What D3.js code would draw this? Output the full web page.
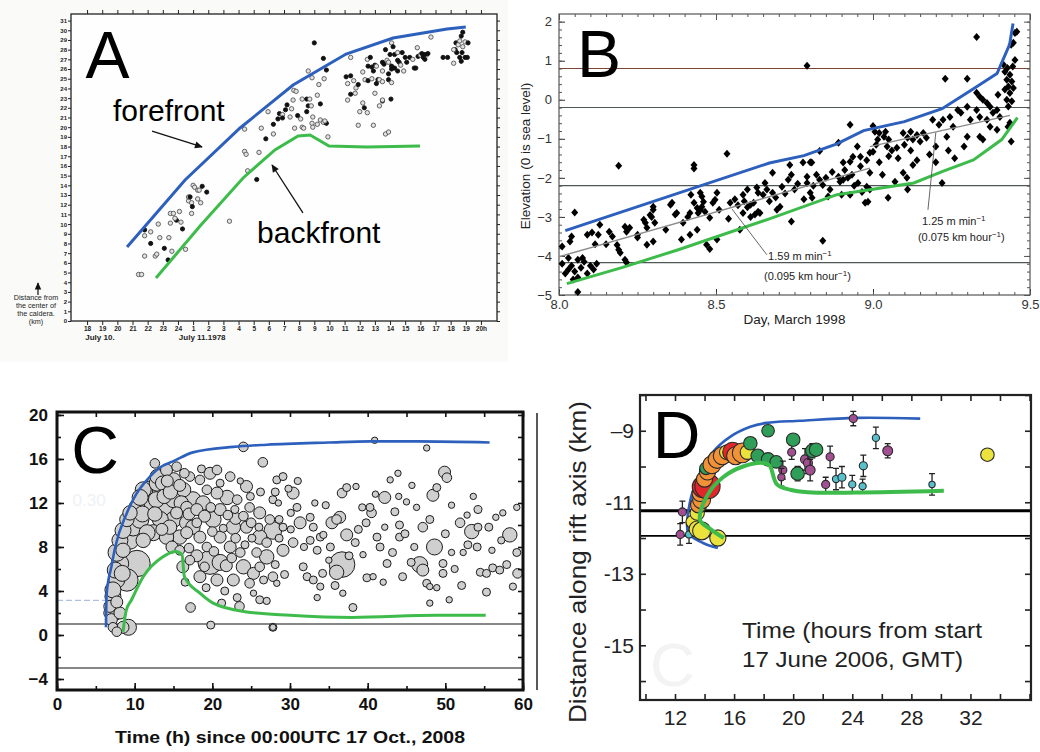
<!DOCTYPE html>
<html>
<head>
<meta charset="utf-8">
<title>Dike fronts A-D</title>
<script src="https://d3js.org/d3.v7.min.js"></script>
<style>
  body { margin: 0; background: #fff; }
  svg { display: block; font-family: "Liberation Sans", Arial, sans-serif; }
</style>
</head>
<body>
<svg width="1040" height="752"></svg>
<script>
// ---------------- data: panel A (hours since July 10 00:00, km from caldera centre)
const aHourTicks = d3.range(18, 45);
const aHourLabels = ["18","19","20","21","22","23","24","1","2","3","4","5","6","7","8","9","10","11","12","13","14","15","16","17","18","19","20h"];
const aKmTicks = d3.range(0, 32);
const aDayLabels = [[18.85, "July 10."], [25.6, "July 11.1978"]];
const aBlue = [[20.64,7.64],[24.47,14.55],[28.1,19.92],[31.6,24.35],[35.1,27.55],[38.2,29.2],[41.76,30.13],[43.0,30.34]];
const aGreen = [[22.55,4.44],[25.46,9.8],[28.3,14.76],[30.4,17.65],[31.93,19.1],[32.72,19.2],[33.97,18.06],[36.48,17.96],[39.98,18.06]];
// [t, km, 1 = filled dot / 0 = open circle]
const aQuakes = [
  [21.4,4.8,0],[21.6,4.8,0],[21.8,8.8,0],[21.8,9.4,1],[21.8,6.7,0],[22.2,9.2,0],[22.2,8.0,1],[22.5,6.7,0],[22.6,6.9,0],
  [22.7,10.0,0],[22.8,8.6,0],[23.1,7.5,1],[23.35,6.3,1],[23.4,8.6,0],[23.5,10.1,0],[23.6,7.2,0],[23.5,11.1,0],[23.7,11.1,0],
  [23.9,10.4,1],[23.8,10.6,0],[24.1,11.3,0],[24.2,10.2,0],[24.3,9.5,1],[24.5,7.4,0],[24.7,12.4,0],[24.7,12.8,0],[24.8,12.8,1],
  [24.9,11.1,0],[24.9,12.2,0],[24.95,11.8,1],[25.0,14.0,0],[25.1,13.8,0],[25.3,13.5,0],[25.3,12.6,0],[25.4,13.5,0],[25.6,13.9,1],
  [25.5,12.2,0],[25.9,13.3,1],[27.4,10.3,0],[29.2,14.6,1],
  [28.4,19.8,0],[33.0,28.7,1],[33.6,27.1,1],[32.6,25.8,0],[33.8,25.9,1],[32.85,25.1,0],[33.65,25.0,0],[33.3,24.4,0],
  [31.65,23.8,0],[31.8,23.7,0],[33.2,23.3,0],[32.2,22.9,0],[32.5,22.9,1],[32.7,22.9,0],[31.6,22.8,0],[31.2,22.3,1],
  [32.6,22.2,1],[32.8,22.2,0],[33.4,22.4,1],[31.5,21.9,0],[31.1,21.8,1],[30.7,21.4,1],[30.9,21.3,0],[31.4,21.05,0],
  [32.9,21.05,0],[31.9,21.2,1],[29.95,21.6,0],[30.9,20.95,1],[30.6,20.85,1],[32.1,20.85,0],[32.5,21.6,1],[33.4,20.74,0],
  [33.6,20.5,0],[33.8,20.4,1],[33.7,20.64,0],[32.85,20.4,0],[30.3,20.3,1],[32.9,20.0,0],[33.2,20.3,0],[32.2,20.0,0],
  [32.3,19.9,0],[31.7,19.9,0],[29.5,19.9,0],[33.9,19.0,0],[30.3,19.3,0],[29.8,18.8,1],[29.35,17.4,0],[28.4,17.5,0],
  [28.5,17.2,0],[28.6,15.5,0],
  [35.4,27.2,0],[35.1,25.2,1],[35.4,25.3,1],[35.2,24.5,0],[35.6,24.8,0],[35.75,24.05,0],[35.7,23.5,0],[35.4,23.4,1],
  [35.2,22.8,0],[35.9,24.4,1],[36.2,25.7,0],[36.5,27.0,0],[36.7,27.2,1],[36.55,26.3,1],[36.8,26.2,1],[37.0,26.4,1],
  [36.9,25.8,1],[36.35,24.9,0],[36.55,24.8,1],[36.8,25.0,0],[37.2,24.9,1],[37.1,24.5,1],[37.0,23.5,0],[37.3,24.9,0],
  [36.2,22.5,0],[36.3,22.0,1],[36.5,21.5,0],[36.0,21.6,0],[35.9,20.2,0],[36.9,20.2,0],[37.5,22.7,1],[37.3,22.2,0],
  [37.7,19.3,0],[37.9,19.5,0],[37.1,26.3,0],[37.5,26.7,1],[37.6,26.5,1],[37.8,26.9,0],[37.9,26.7,0],[37.7,28.0,1],
  [38.1,28.7,0],[38.2,28.3,1],[38.0,27.5,1],[38.3,27.5,1],[38.5,27.7,0],[38.8,27.7,1],[38.5,26.9,1],[38.1,26.3,1],
  [38.3,26.1,1],[38.6,26.7,1],[38.7,26.4,0],[38.1,26.0,1],[38.5,25.8,1],[37.5,25.8,0],[37.9,25.5,1],[37.9,24.9,1],
  [38.1,24.6,0],[37.5,24.7,0],[38.9,25.8,0],[39.0,27.2,1],[39.1,26.7,1],[39.3,27.2,1],[39.5,27.0,0],[39.6,26.1,1],
  [39.7,26.1,1],[39.8,28.2,0],[39.85,27.3,1],[40.0,27.45,0],[40.1,27.6,1],[40.2,27.2,1],[40.3,27.0,1],[40.4,27.45,0],
  [40.5,27.6,1],[40.3,27.5,1],[40.7,29.3,0],[38.06,22.9,1],[37.5,22.8,0],
  [41.5,27.2,1],[41.8,27.2,1],[42.2,26.6,0],[42.3,28.0,1],[42.35,28.7,1],[42.4,27.7,1],[42.5,28.5,0],[42.6,28.9,0],
  [42.7,29.4,1],[42.8,29.8,1],[42.8,28.3,0],[42.95,28.8,0],[42.75,27.7,1],[42.6,27.2,1],[42.95,27.2,1],[43.1,27.2,1],
  [42.7,26.8,1],[43.15,28.7,1],[42.2,28.0,0]
];

// ---------------- data: panel B (day of March 1998, elevation km)
const bDayMajor = [8.0, 8.5, 9.0, 9.5];
const bElevMajor = [-5, -4, -3, -2, -1, 0, 1, 2];
const bRefLevels = [0.8, -0.2, -2.2, -4.17];
const bBlue = [[8.02,-3.35],[8.67,-1.62],[8.78,-1.43],[8.885,-1.13],[8.97,-0.79],[9.1,-0.56],[9.22,-0.23],[9.32,0.28],[9.395,0.67],[9.435,1.41],[9.446,1.95]];
const bGreen = [[8.025,-4.71],[8.2,-4.3],[8.38,-3.84],[8.67,-3.05],[8.885,-2.43],[9.13,-2.13],[9.22,-1.84],[9.32,-1.54],[9.41,-1.02],[9.46,-0.46]];
const bFit1 = [[8.0,-4.02],[8.99,-1.75]];
const bFit2 = [[8.99,-1.2],[9.436,-0.4]];
const bQuakes = [
  [8.19,-1.69],[8.43,-1.67],[8.43,-1.76],[8.535,-1.38],[8.05,-2.89],[8.01,-3.76],[8.04,-3.5],[8.035,-3.63],
  [8.01,-4.2],[8.03,-4.05],[8.04,-4.25],[8.05,-4.4],[8.06,-4.1],[8.06,-4.55],[8.07,-4.3],[8.08,-4.15],[8.09,-4.45],
  [8.1,-4.25],[8.02,-4.45],[8.045,-4.6],[8.075,-4.05],[8.11,-4.35],[8.12,-4.2],[8.03,-4.35],[8.06,-4.92],
  [8.09,-3.46],[8.105,-3.4],[8.115,-3.7],[8.13,-3.2],[8.125,-3.46],[8.15,-3.7],[8.16,-3.38],[8.17,-3.5],[8.185,-3.72],
  [8.19,-3.84],[8.195,-3.92],[8.21,-3.25],[8.215,-3.38],[8.225,-3.28],[8.21,-4.1],[8.215,-4.17],[8.25,-3.53],[8.25,-3.46],
  [8.27,-3.07],[8.275,-3.15],[8.28,-3.28],[8.29,-2.95],[8.295,-3.0],[8.3,-2.74],[8.3,-2.82],[8.305,-3.15],[8.3,-3.63],
  [8.28,-3.71],[8.34,-3.33],[8.355,-2.69],[8.36,-2.64],[8.37,-2.94],[8.375,-2.9],[8.39,-3.58],[8.395,-3.15],[8.41,-3.0],
  [8.417,-2.9],[8.417,-3.46],[8.42,-2.43],[8.43,-2.64],[8.44,-2.77],[8.44,-3.33],[8.443,-2.9],[8.45,-2.82],[8.455,-2.74],
  [8.45,-2.38],[8.455,-2.48],[8.46,-2.61],[8.465,-2.87],[8.47,-3.71],[8.48,-3.82],[8.48,-3.02],[8.49,-2.64],[8.497,-2.56],
  [8.503,-3.58],[8.503,-2.38],[8.51,-2.82],[8.54,-3.05],[8.545,-2.64],[8.576,-3.33],[8.586,-2.43],[8.6,-2.3],[8.61,-2.69],
  [8.62,-2.64],[8.63,-2.25],[8.634,-2.38],[8.65,-2.43],[8.662,-2.3],[8.634,-2.87],[8.64,-2.9],[8.61,-3.0],[8.624,-2.94],
  [8.586,-2.9],[8.68,-1.87],[8.656,-2.13],[8.56,-2.55],[8.57,-2.7],[8.59,-2.6],[8.6,-2.75],[8.67,-2.6],[8.69,-2.5],
  [8.74,-3.12],[8.84,-3.61],[8.694,-2.82],[8.704,-2.74],[8.68,-2.38],[8.71,-2.23],[8.73,-2.05],[8.74,-1.92],[8.75,-2.3],
  [8.79,-1.97],[8.79,-2.13],[8.8,-2.38],[8.806,-2.51],[8.82,-1.92],[8.83,-2.05],[8.84,-2.18],[8.857,-2.48],[8.863,-2.3],
  [8.89,-1.97],[8.895,-2.1],[8.905,-2.05],[8.9,-2.43],[8.927,-2.43],[8.92,-2.0],[8.933,-1.92],[8.952,-2.13],[8.965,-2.36],
  [8.975,-2.64],[8.984,-2.61],[8.98,-2.23],[8.99,-2.3],[8.99,-1.87],[9.03,-1.92],[9.048,-2.51],[9.07,-2.1],[9.096,-1.87],
  [9.108,-2.0],[9.11,-2.3],[9.127,-1.67],[9.22,-2.13],[8.735,-1.67],[8.777,-1.61],[8.805,-1.61],[8.72,-2.4],[8.76,-2.15],
  [8.78,-2.55],[8.81,-2.2],[8.85,-2.0],[8.87,-1.85],[8.91,-1.8],[8.94,-2.2],[8.96,-1.7],[9.02,-1.6],[9.05,-1.45],
  [9.08,-1.5],[9.12,-1.3],[9.14,-1.55],[9.18,-1.4],[9.2,-1.6],[9.24,-1.3],[9.26,-1.5],[9.06,-1.3],[9.1,-1.15],[8.98,-1.55],
  [8.95,-1.2],
  [8.79,0.87],[9.33,1.61],[9.23,0.54],[9.3,0.54],[8.927,-0.64],[9.0,-0.67],[8.89,-1.1],[8.83,-1.31],[8.8,-1.6],
  [8.936,-1.46],[8.96,-1.46],[8.905,-1.61],[8.927,-1.59],[9.006,-0.82],[9.02,-0.85],[9.04,-0.82],[9.035,-0.95],[9.015,-1.02],
  [9.05,-1.02],[9.01,-1.15],[9.045,-1.2],[8.99,-1.36],[9.0,-1.33],[9.096,-0.85],[9.12,-0.82],[9.14,-0.9],[9.16,-0.85],
  [9.11,-0.97],[9.127,-1.02],[9.15,-1.07],[9.17,-0.97],[9.076,-1.23],[9.19,-0.51],[9.21,-0.64],[9.223,-0.51],[9.245,-0.44],
  [9.255,-0.69],[9.235,-0.95],[9.2,-1.2],[9.27,-0.26],[9.28,-0.33],[9.3,-0.18],[9.31,-0.51],[9.33,-0.26],[9.29,-1.2],
  [9.3,-0.95],[9.35,0.0],[9.363,-0.08],[9.373,-0.18],[9.34,-0.44],[9.363,-0.51],[9.382,-0.33],[9.395,-0.26],[9.404,-0.44],
  [9.373,-0.69],[9.395,-0.77],[9.34,-0.95],[9.35,-1.02],[9.398,0.13],[9.33,0.18],[9.34,0.08],
  [9.415,0.9],[9.42,0.72],[9.428,0.81],[9.436,0.64],[9.426,0.51],[9.442,0.47],[9.431,0.34],[9.447,0.3],[9.42,0.26],
  [9.436,0.17],[9.426,0.0],[9.442,-0.04],[9.431,-0.17],[9.445,0.85],[9.452,1.02],[9.452,1.71],[9.458,1.74],[9.44,1.41],
  [9.447,1.46],[9.436,-0.59],[9.43,-0.69],[9.44,-1.07]
];

// ---------------- data: panel C (hours since 00:00 UTC 17 Oct 2008, km, magnitude class)
const cRefLevels = [1.0, -3.0];
const cBlue = [[6.3,0.7],[6.4,3.8],[7.0,6.2],[7.5,8.0],[9.0,11.1],[10.2,12.8],[11.6,14.1],[13.2,15.2],[15.0,15.8],[17.5,16.6],[22.7,17.1],[27,17.3],[35,17.5],[40.3,17.6],[46.3,17.6],[55.7,17.5]];
const cGreen = [[8.5,0.3],[8.9,2.2],[9.6,3.2],[11.1,5.3],[13.6,7.1],[15.3,7.6],[16.1,7.3],[16.4,5.3],[18.4,3.8],[20.1,2.9],[24.4,2.1],[30,1.8],[38,1.6],[48.9,1.8],[55.2,1.8]];
const cQuakes = [
  [10.3,6.5,3.3],[9.0,5.0,2.8],[8.5,0.7,1.5],[7.5,2.0,1.8],[7.2,3.5,2.0],[7.7,5.0,2.0],[8.1,6.5,2.2],[9.4,8.6,2.2],
  [9.8,9.8,2.2],[10.7,10.5,2.2],[11.6,11.6,2.5],[11.1,13.2,2.0],[12.6,15.6,1.2],[13.3,13.2,2.0],[14.1,11.6,2.2],[15.0,14.1,1.8],
  [15.0,10.5,2.0],[16.7,10.2,1.8],[15.8,8.9,1.8],[19.7,6.6,3.0],[21.0,6.6,2.0],[17.5,12.3,2.0],[18.8,12.0,1.8],[17.5,9.8,1.8],
  [20.1,10.5,2.0],[22.7,9.8,1.8],[22.3,8.0,1.5],[24.0,6.2,1.8],[25.3,5.6,1.5],[27.0,7.1,1.8],[27.8,9.5,2.2],[26.1,8.9,1.8],
  [24.4,13.5,1.5],[22.3,14.4,1.2],[19.7,14.7,1.5],[20.6,15.0,1.2],[24.0,17.1,1.2],[26.5,15.7,1.2],[17.2,2.5,1.2],[19.8,0.9,1.0],
  [21.2,2.9,1.0],[23.2,3.4,1.0],[23.5,2.6,1.2],[27.8,0.7,1.0],[26.1,3.2,1.0],[27.0,3.1,0.9],[17.1,6.8,1.2],[18.4,5.3,1.5],
  [20.6,5.0,1.5],[22.7,5.0,1.5],[24.8,4.7,1.2],[23.6,7.5,1.2],[21.0,8.9,1.5],[18.4,8.9,1.5],[19.3,8.0,1.2],[15.8,7.7,1.2],
  [14.1,8.9,1.8],[13.3,10.5,2.0],[12.4,9.3,2.0],[12.9,14.4,1.8],[14.1,15.0,1.5],[15.4,15.3,1.2],[17.1,14.4,1.2],[18.4,14.1,1.2],
  [19.3,13.2,1.2],[20.6,12.9,1.5],[21.9,12.5,1.8],[23.2,12.3,1.2],[24.8,11.6,1.2],[26.1,11.1,1.5],[27.4,10.5,1.2],[24.4,9.8,1.5],
  [25.7,7.5,1.2],[26.1,6.2,1.2],[27.8,5.3,1.2],[28.3,14.1,1.0],[27.8,12.3,1.0],
  [6.8,2.0,1.5],[7.0,1.4,1.5],[7.2,0.7,1.2],[7.7,0.3,1.2],[6.8,2.6,1.5],[7.2,4.1,2.0],[7.5,5.9,2.0],[7.7,7.5,2.2],
  [8.1,8.6,2.0],[8.5,9.5,2.0],[9.0,10.5,1.8],[9.4,11.1,1.8],[10.3,11.6,2.0],[10.7,12.5,2.0],[12.0,13.2,2.2],[12.9,13.8,2.0],
  [13.6,13.8,1.8],[8.5,7.7,1.8],[8.4,5.6,2.0],[9.2,0.7,2.0],[8.1,2.0,1.5],[7.7,3.0,1.5],[11.6,9.3,2.0],[11.1,8.6,1.8],
  [15.0,12.3,2.0],[16.3,13.2,1.8],[16.7,11.6,1.5],[15.4,11.1,1.5],[14.5,9.8,1.8],[16.7,9.3,1.5],
  [11.0,11.0,2.0],[12.0,11.8,2.2],[12.8,12.3,2.0],[13.8,12.6,1.8],[14.6,13.0,1.8],[15.8,13.6,1.5],[16.0,12.0,1.8],[17.0,11.0,1.5],
  [18.0,11.4,1.5],[19.0,10.8,1.5],[19.8,11.6,1.2],[21.0,11.4,1.5],[22.0,10.9,1.2],[23.0,10.6,1.5],[24.0,10.8,1.2],[25.0,10.2,1.2],
  [26.0,9.8,1.0],[27.0,8.4,1.2],[28.6,8.8,1.0],[12.6,11.0,1.8],[13.5,9.6,1.5],[14.8,8.0,1.5],[16.2,6.2,1.5],[17.0,7.9,1.2],
  [18.0,7.2,1.5],[19.0,6.2,1.2],[20.2,7.6,1.2],[21.8,6.3,1.5],[22.5,7.0,1.2],[23.0,8.8,1.2],[24.2,8.2,1.0],[25.1,8.8,1.0],
  [26.6,5.0,1.0],[25.3,3.8,0.8],[21.6,4.0,1.0],[19.2,4.3,1.0],[16.5,4.8,1.0],[18.0,10.2,1.2],[20.0,9.4,1.2],[21.4,9.7,1.0],
  [22.9,11.4,1.0],[24.9,12.6,1.0],[26.2,13.0,1.0],[23.6,14.0,0.8],[21.0,13.8,1.0],[18.6,15.1,1.0],[16.4,14.7,1.2],[14.2,14.0,1.5],
  [29.1,14.4,1.0],[30.4,12.9,1.5],[28.1,13.0,1.0],[28.5,12.0,0.8],[30.9,11.6,1.0],[31.3,10.2,1.5],[29.1,9.8,1.0],[30.4,8.4,1.2],
  [29.1,7.7,1.5],[28.1,6.4,1.0],[29.3,5.5,1.0],[28.3,4.7,0.8],[31.7,6.2,1.0],[32.2,5.3,1.0],[33.5,7.7,1.0],[33.9,8.9,1.0],
  [34.3,9.1,0.9],[35.4,10.2,1.5],[36.0,10.5,1.2],[36.4,10.7,1.5],[37.3,9.1,1.5],[36.7,6.4,3.2],[36.0,5.7,1.8],[35.8,4.5,1.0],
  [34.2,5.6,1.0],[33.0,5.0,1.0],[33.5,3.4,0.8],[33.9,4.4,0.9],[36.7,12.9,1.2],[37.3,13.4,1.0],[38.5,13.5,0.8],[38.4,8.4,1.0],
  [38.1,2.5,1.0],[39.9,5.2,1.0],[39.4,7.3,0.8],[40.7,5.3,0.8],[40.5,11.1,1.2],[40.3,11.6,1.0],[39.3,11.6,0.9],[42.2,12.5,1.5],
  [42.2,9.8,0.8],[41.2,8.9,1.0],[41.6,8.0,1.0],[42.5,6.5,1.0],[43.2,7.5,1.0],[44.1,8.9,1.0],[44.1,10.0,1.0],[42.9,14.1,0.8],
  [43.9,14.7,0.8],[45.0,12.1,0.8],[46.3,11.6,0.8],[47.1,9.8,1.2],[48.0,10.5,1.0],[48.6,8.0,2.0],[46.7,6.4,2.0],[47.1,5.9,1.5],
  [47.6,4.7,1.0],[48.0,4.4,0.8],[48.9,4.3,0.8],[49.7,6.5,1.0],[49.7,5.6,1.0],[50.8,7.5,0.8],[49.9,14.8,1.5],[50.2,14.3,1.2],
  [48.4,12.7,1.5],[48.9,13.4,1.0],[50.8,11.8,0.8],[51.9,10.2,1.2],[53.4,9.4,1.8],[54.2,9.8,1.0],[54.2,11.4,1.0],[52.9,8.2,1.0],
  [54.1,8.0,1.0],[52.3,7.5,0.8],[52.1,4.5,1.0],[54.5,5.7,1.0],[55.3,5.6,1.0],[55.3,3.9,1.0],[56.1,6.1,1.0],[57.0,5.9,1.0],
  [57.9,6.4,1.0],[58.3,9.1,1.8],[57.4,11.1,0.8],[59.2,11.6,0.8],[59.2,7.5,1.0],[59.3,5.6,1.2],[56.0,7.7,0.8],[52.8,10.9,0.8],
  [48.0,2.9,0.8],[27.8,0.7,0.8],[40.9,17.7,0.8],[47.6,17.0,0.8],[33.0,9.8,1.0],[32.6,8.6,1.0],[32.6,10.7,1.0],[30.1,11.1,0.9],
  [30.1,9.6,0.9],[28.6,10.5,1.0],[29.8,13.3,0.9],[31.8,8.0,0.9],[34.6,11.8,0.9],[35.2,8.0,1.0],[37.6,7.2,1.0],[38.8,9.6,1.0],
  [39.8,10.2,1.0],[41.0,12.8,0.8],[43.5,11.2,1.0],[44.8,9.2,1.0],[45.6,6.6,1.0],[44.5,5.3,1.0],[46.0,8.0,0.9],[50.0,9.2,1.0],
  [51.2,6.0,0.9],[53.6,12.6,0.8],[55.6,9.8,1.0],[57.2,8.6,0.9],[58.7,4.4,0.9],[45.7,13.6,0.8],[44.0,12.6,0.8],[31.0,14.0,0.9],
  [33.2,12.0,0.8],[35.0,6.8,0.8],[36.8,3.8,0.8],[42.0,4.8,0.8],[50.5,3.2,0.8],[56.5,10.7,0.8]
];

// ---------------- data: panel D (hours from start 17 June 2006, km along rift axis)
const dXLabels = [12, 16, 20, 24, 28, 32];
const dYTickVals = [-9, -11, -13, -15];
const dYTickLabels = ["\u20139", "-11", "-13", "-15"];
const dRefLevels = [-11.24, -11.94];
const dBlue = [[14.9,-12.28],[13.9,-12.14],[12.9,-11.86],[13.0,-11.02],[13.5,-10.37],[14.58,-9.59],[15.73,-9.17],[17.1,-8.89],[18.2,-8.78],[20.5,-8.72],[24.3,-8.64],[28.6,-8.66]];
const dGreen = [[15.3,-12.0],[14.4,-11.75],[13.7,-11.5],[14.2,-10.8],[15.25,-10.3],[16.6,-10.0],[17.97,-9.9],[18.4,-9.97],[18.9,-10.5],[19.8,-10.65],[21,-10.72],[24.3,-10.73],[30.2,-10.68]];
// [t, km, group, size class, error km]
const dEvents = [
  [12.5,-11.27,"p",0.9,0.3],[12.35,-11.9,"p",0.9,0.3],[12.95,-11.9,"c",0.8,0.25],[13.2,-11.55,"y",1.5,0],
  [13.5,-11.3,"y",1.6,0],[13.6,-11.07,"o",1.8,0],[13.5,-11.75,"y",1.8,0],[13.8,-11.8,"y",2.0,0],[14.9,-12.0,"y",1.8,0.2],
  [13.8,-10.93,"o",2.0,0],[13.7,-10.75,"o",1.8,0],[13.9,-10.57,"r",2.4,0],[14.2,-10.55,"r",2.8,0],[14.0,-10.35,"o",1.8,0],
  [14.2,-10.15,"o",1.8,0],[14.1,-10.05,"g",1.4,0],[14.5,-9.95,"o",2.0,0],[14.85,-9.8,"o",2.0,0],[15.2,-9.7,"o",2.0,0],
  [15.5,-9.6,"y",1.6,0],[15.9,-9.6,"r",2.2,0],[16.1,-9.7,"o",2.0,0],[16.55,-9.62,"o",2.2,0],[16.9,-9.6,"y",1.6,0],
  [17.1,-9.35,"g",1.5,0],[17.6,-9.7,"g",1.5,0],[18.3,-9.0,"g",1.4,0],[18.3,-9.8,"g",1.5,0],[18.85,-9.87,"g",1.4,0],
  [19.3,-10.1,"p",0.9,0.25],[19.2,-10.3,"p",0.8,0.25],[19.9,-9.6,"p",0.9,0.2],[20.0,-9.25,"g",1.5,0],[20.3,-10.2,"g",1.5,0.2],
  [20.8,-9.8,"p",1.0,0.3],[21.0,-9.9,"p",1.0,0.3],[21.15,-10.1,"p",1.1,0.3],[21.3,-9.56,"g",1.5,0.2],[21.55,-9.53,"g",1.5,0],
  [22.5,-9.73,"p",0.9,0.3],[22.2,-10.5,"p",0.9,0.2],[22.9,-10.35,"c",0.8,0.3],[23.3,-10.3,"c",0.9,0.3],[24.0,-10.5,"c",0.8,0.25],
  [24.07,-8.66,"p",0.9,0.2],[24.7,-10.55,"c",0.8,0.2],[24.75,-9.98,"c",0.9,0.3],[25.6,-9.2,"c",0.8,0.3],[26.4,-9.56,"p",1.1,0.2],
  [29.4,-10.5,"c",0.7,0.3],[33.15,-9.67,"y",1.5,0]
];
const dPalette = { y: "#ebe23e", o: "#f29238", r: "#e2262b", g: "#2f9e58", p: "#a24f92", c: "#58bfcc" };

// ---------------- drawing
const BLUE = "#2d5fbd", GREEN = "#3dbb4b";
const svg = d3.select("svg");

svg.append("defs").append("marker")
    .attr("id", "head").attr("viewBox", "0 0 10 10")
    .attr("refX", 9).attr("refY", 5)
    .attr("markerWidth", 8).attr("markerHeight", 6)
    .attr("orient", "auto")
  .append("path").attr("d", "M0,0.5L10,5L0,9.5Z").attr("fill", "#111");

function axis(g, gen, tr, fs, fw, color) {
  const a = g.append("g").attr("transform", tr).call(gen)
      .attr("font-family", null).attr("font-size", fs)
      .attr("font-weight", fw || "normal").attr("color", color || "#222");
  a.select(".domain").remove();
  return a;
}

function frame(g, x, y, stroke, sw) {
  g.append("rect")
      .attr("x", x.range()[0]).attr("y", y.range()[1])
      .attr("width", x.range()[1] - x.range()[0])
      .attr("height", y.range()[0] - y.range()[1])
      .attr("fill", "none").attr("stroke", stroke).attr("stroke-width", sw);
}

function hlines(g, x, y, levels, stroke, widths) {
  g.selectAll(null).data(levels).join("line")
      .attr("x1", x.range()[0]).attr("x2", x.range()[1])
      .attr("y1", d => y(d)).attr("y2", d => y(d))
      .attr("stroke", (d, i) => Array.isArray(stroke) ? stroke[i] : stroke)
      .attr("stroke-width", (d, i) => Array.isArray(widths) ? widths[i] : widths);
}

function letter(g, txt, x, y) {
  g.append("text").attr("x", x).attr("y", y)
      .attr("font-size", 66).attr("fill", "#000").text(txt);
}

// ===== Panel A
const xA = d3.scaleLinear().domain([16.94, 45.06]).range([71, 497]);
const yA = d3.scaleLinear().domain([0, 31.68]).range([321, 14]);
const gA = svg.append("g");
gA.append("rect").attr("x", 0).attr("y", 0).attr("width", 508).attr("height", 362).attr("fill", "#fafaf9");
gA.append("rect").attr("x", xA.range()[0]).attr("y", yA.range()[1])
    .attr("width", xA.range()[1] - xA.range()[0]).attr("height", yA.range()[0] - yA.range()[1])
    .attr("fill", "#fefefe");

axis(gA, d3.axisLeft(yA).tickValues(aKmTicks).tickSize(3).tickSizeOuter(0).tickPadding(1), "translate(71,0)", 6, "bold");
axis(gA, d3.axisRight(yA).tickValues(aKmTicks).tickFormat("").tickSize(3).tickSizeOuter(0), "translate(497,0)", 6);
axis(gA, d3.axisBottom(xA).tickValues(aHourTicks).tickFormat((d, i) => aHourLabels[i]).tickSize(4).tickSizeOuter(0).tickPadding(1),
     "translate(0,321)", 6.5, "bold");
axis(gA, d3.axisTop(xA).tickValues(aHourTicks).tickFormat("").tickSize(4).tickSizeOuter(0), "translate(0,14)", 6);
frame(gA, xA, yA, "#222", 1.3);

gA.selectAll(".daylab").data(aDayLabels).join("text")
    .attr("x", d => xA(d[0])).attr("y", 340)
    .attr("text-anchor", "middle").attr("font-size", 8).attr("font-weight", "bold")
    .attr("fill", "#222").text(d => d[1]);

gA.append("text").attr("text-anchor", "middle").attr("font-size", 7.2).attr("fill", "#222")
  .selectAll("tspan").data(["Distance from", "the center of", "the caldera.", "(km)"]).join("tspan")
    .attr("x", 36).attr("y", (d, i) => 300 + i * 8).text(d => d);
gA.append("line").attr("x1", 38).attr("x2", 38).attr("y1", 295).attr("y2", 283)
    .attr("stroke", "#111").attr("stroke-width", 1.2).attr("marker-end", "url(#head)");

const lineA = d3.line().x(d => xA(d[0])).y(d => yA(d[1]));
gA.selectAll(".qa").data(aQuakes).join("circle")
    .attr("cx", d => xA(d[0])).attr("cy", d => yA(d[1]))
    .attr("r", d => d[2] ? 2.1 : 2.2)
    .attr("fill", d => d[2] ? "#111" : "#e2e2e2")
    .attr("stroke", d => d[2] ? "#111" : "#555")
    .attr("stroke-width", 0.9);
gA.append("path").attr("d", lineA(aBlue)).attr("fill", "none").attr("stroke", BLUE).attr("stroke-width", 3);
gA.append("path").attr("d", lineA(aGreen)).attr("fill", "none").attr("stroke", GREEN).attr("stroke-width", 3);

letter(gA, "A", xA(17.9), yA(25.1));
gA.append("text").attr("x", xA(19.71)).attr("y", yA(20.64)).attr("font-size", 30).text("forefront");
gA.append("text").attr("x", xA(29.22)).attr("y", yA(8.05)).attr("font-size", 30).text("backfront");
gA.append("line").attr("x1", xA(22.29)).attr("y1", yA(19.6)).attr("x2", xA(25.59)).attr("y2", yA(17.96))
    .attr("stroke", "#111").attr("stroke-width", 1.3).attr("marker-end", "url(#head)");
gA.append("line").attr("x1", xA(32.25)).attr("y1", yA(11.15)).attr("x2", xA(30.21)).attr("y2", yA(16.1))
    .attr("stroke", "#111").attr("stroke-width", 1.3).attr("marker-end", "url(#head)");

// ===== Panel B
const xB = d3.scaleLinear().domain([8.0, 9.5]).range([559, 1030]);
const yB = d3.scaleLinear().domain([-5, 2.196]).range([295, 14]);
const gB = svg.append("g");

hlines(gB, xB, yB, bRefLevels, ["#7a4536", "#4e5955", "#4e5955", "#4e5955"], 1.1);

axis(gB, d3.axisLeft(yB).tickValues(bElevMajor).tickFormat(d3.format("d")).tickSize(-6).tickPadding(7), "translate(559,0)", 13, "normal", "#333");
axis(gB, d3.axisLeft(yB).tickValues(d3.range(-5, 2.2, 0.2)).tickFormat("").tickSize(-3), "translate(559,0)", 13, "normal", "#555");
axis(gB, d3.axisRight(yB).tickValues(bElevMajor).tickFormat("").tickSize(-6), "translate(1030,0)", 13, "normal", "#555");
axis(gB, d3.axisRight(yB).tickValues(d3.range(-5, 2.2, 0.2)).tickFormat("").tickSize(-3), "translate(1030,0)", 13, "normal", "#555");
axis(gB, d3.axisBottom(xB).tickValues(bDayMajor).tickFormat(d3.format(".1f")).tickSize(-6).tickPadding(5), "translate(0,295)", 13, "normal", "#333");
axis(gB, d3.axisBottom(xB).tickValues(d3.range(8.0, 9.51, 0.05)).tickFormat("").tickSize(-3), "translate(0,295)", 13, "normal", "#555");
axis(gB, d3.axisTop(xB).tickValues(bDayMajor).tickFormat("").tickSize(-6), "translate(0,14)", 13, "normal", "#555");
axis(gB, d3.axisTop(xB).tickValues(d3.range(8.0, 9.51, 0.05)).tickFormat("").tickSize(-3), "translate(0,14)", 13, "normal", "#555");
frame(gB, xB, yB, "#555", 1.2);

gB.append("text").attr("x", (xB(8.0) + xB(9.5)) / 2).attr("y", 324)
    .attr("text-anchor", "middle").attr("font-size", 13.5).attr("fill", "#222").text("Day, March 1998");
gB.append("text").attr("transform", "translate(530,156) rotate(-90)")
    .attr("text-anchor", "middle").attr("font-size", 13.5).attr("fill", "#222").text("Elevation (0 is sea level)");

gB.selectAll(".qb").data(bQuakes).join("path")
    .attr("d", d => {
      const x = xB(d[0]), y = yB(d[1]);
      return `M${x},${y - 4}L${x + 3.5},${y}L${x},${y + 4}L${x - 3.5},${y}Z`;
    })
    .attr("fill", "#000");

const lineB = d3.line().x(d => xB(d[0])).y(d => yB(d[1]));
[bFit1, bFit2].forEach(f => gB.append("path").attr("d", lineB(f)).attr("fill", "none")
    .attr("stroke", "#8a8a8a").attr("stroke-width", 1.4));
gB.append("path").attr("d", lineB(bBlue)).attr("fill", "none").attr("stroke", BLUE).attr("stroke-width", 3);
gB.append("path").attr("d", lineB(bGreen)).attr("fill", "none").attr("stroke", GREEN).attr("stroke-width", 3);

gB.append("path").attr("d", lineB([[8.551, -2.8], [8.662, -3.97]])).attr("stroke", "#555").attr("stroke-width", 0.9);
gB.append("path").attr("d", lineB([[9.2, -0.84], [9.175, -2.82]])).attr("stroke", "#555").attr("stroke-width", 0.9);

function rateLabel(g, x, y, main, tail) {
  const t = g.append("text").attr("x", x).attr("y", y).attr("font-size", 11).attr("fill", "#222");
  t.append("tspan").text(main);
  t.append("tspan").attr("dy", -4).attr("font-size", 8).text("\u22121");
  if (tail) t.append("tspan").attr("dy", 4).text(tail);
}
rateLabel(gB, xB(8.666), yB(-4.1), "1.59 m min");
rateLabel(gB, xB(8.653), yB(-4.61), "(0.095 km hour", ")");
rateLabel(gB, xB(9.156), yB(-3.2), "1.25 m min");
rateLabel(gB, xB(9.143), yB(-3.61), "(0.075 km hour", ")");

letter(gB, "B", xB(8.057), yB(0.58));

// ===== Panel C
const xC = d3.scaleLinear().domain([0, 60]).range([57, 523]);
const yC = d3.scaleLinear().domain([-5, 20.27]).range([690, 412]);
const rC = d3.scaleLinear().domain([0, 4]).range([0, 16]);
const gC = svg.append("g");

gC.append("text").attr("x", xC(2.0)).attr("y", yC(11.7)).attr("font-size", 17)
    .attr("fill", "#eef1f6").text("0.30");
gC.append("line").attr("x1", xC(0)).attr("x2", xC(6.2)).attr("y1", yC(3.15)).attr("y2", yC(3.15))
    .attr("stroke", "#aebfe0").attr("stroke-width", 1.3).attr("stroke-dasharray", "6,3");

hlines(gC, xC, yC, cRefLevels, "#111", 1.2);

const cSorted = cQuakes.slice().sort((a, b) => b[2] - a[2]);
gC.selectAll(".qc").data(cSorted).join("circle")
    .attr("cx", d => xC(d[0])).attr("cy", d => yC(d[1])).attr("r", d => rC(d[2]))
    .attr("fill", "#cfcfcf").attr("stroke", "#1b1b1b").attr("stroke-width", 1);

const lineC = d3.line().x(d => xC(d[0])).y(d => yC(d[1])).curve(d3.curveMonotoneX);
gC.append("path").attr("d", lineC(cBlue)).attr("fill", "none").attr("stroke", BLUE).attr("stroke-width", 2.6);
gC.append("path").attr("d", lineC(cGreen)).attr("fill", "none").attr("stroke", GREEN).attr("stroke-width", 3);

axis(gC, d3.axisLeft(yC).tickValues(d3.range(-4, 21, 4)).tickFormat(d3.format("d")).tickSize(-7).tickPadding(9), "translate(57,0)", 17, "bold", "#111");
axis(gC, d3.axisLeft(yC).tickValues(d3.range(-4, 21, 2)).tickFormat("").tickSize(-4), "translate(57,0)", 17, "normal", "#111");
axis(gC, d3.axisRight(yC).tickValues(d3.range(-4, 21, 2)).tickFormat("").tickSize(-5), "translate(523,0)", 17, "normal", "#111");
axis(gC, d3.axisBottom(xC).tickValues(d3.range(0, 61, 10)).tickFormat(d3.format("d")).tickSize(-7).tickPadding(8), "translate(0,690)", 17, "bold", "#111");
axis(gC, d3.axisBottom(xC).tickValues(d3.range(0, 61, 5)).tickFormat("").tickSize(-4), "translate(0,690)", 17, "normal", "#111");
axis(gC, d3.axisTop(xC).tickValues(d3.range(0, 61, 5)).tickFormat("").tickSize(-5), "translate(0,412)", 17, "normal", "#111");
gC.selectAll(".tick line").attr("stroke-width", 1.6);
frame(gC, xC, yC, "#111", 3);
gC.append("line").attr("x1", 537).attr("x2", 537).attr("y1", 413).attr("y2", 690)
    .attr("stroke", "#222").attr("stroke-width", 1.5);

gC.append("text").attr("x", xC(30)).attr("y", 743).attr("text-anchor", "middle")
    .attr("font-size", 17).attr("font-weight", "bold").attr("fill", "#111")
    .attr("textLength", 350).attr("lengthAdjust", "spacingAndGlyphs")
    .text("Time (h) since 00:00UTC 17 Oct., 2008");
letter(gC, "C", xC(1.85), yC(14.7));

// ===== Panel D
const xD = d3.scaleLinear().domain([9.63, 36.1]).range([640, 1031]);
const yD = d3.scaleLinear().domain([-16.53, -8.0]).range([700, 395]);
const rD = d3.scaleLinear().domain([0, 3]).range([0, 13.5]);
const gD = svg.append("g");

gD.append("text").attr("x", xD(10.3)).attr("y", yD(-16.15)).attr("font-size", 62)
    .attr("fill", "#f3f3f3").text("C");

hlines(gD, xD, yD, dRefLevels, "#000", [3, 1.6]);

const lineD = d3.line().x(d => xD(d[0])).y(d => yD(d[1])).curve(d3.curveCatmullRom.alpha(0.5));
gD.append("path").attr("d", lineD(dBlue)).attr("fill", "none").attr("stroke", BLUE).attr("stroke-width", 2.6);

const ev = gD.selectAll(".ev").data(dEvents).join("g");
ev.filter(d => d[4] > 0).append("path")
    .attr("d", d => {
      const x = xD(d[0]), y1 = yD(d[1] - d[4]), y2 = yD(d[1] + d[4]);
      return `M${x},${y1}V${y2}M${x - 3},${y1}H${x + 3}M${x - 3},${y2}H${x + 3}`;
    })
    .attr("stroke", "#222").attr("stroke-width", 1.3).attr("fill", "none");
ev.append("circle")
    .attr("cx", d => xD(d[0])).attr("cy", d => yD(d[1])).attr("r", d => rD(d[3]))
    .attr("fill", d => dPalette[d[2]]).attr("stroke", "#2a2a2a").attr("stroke-width", 1.1);

gD.append("path").attr("d", lineD(dGreen)).attr("fill", "none").attr("stroke", GREEN).attr("stroke-width", 4);

axis(gD, d3.axisLeft(yD).tickValues(d3.range(-16, -7)).tickFormat("").tickSize(-6), "translate(640,0)", 21, "normal", "#222");
axis(gD, d3.axisLeft(yD).tickValues(dYTickVals).tickFormat((d, i) => dYTickLabels[i]).tickSize(0).tickPadding(6), "translate(640,0)", 21, "normal", "#222");
axis(gD, d3.axisRight(yD).tickValues(d3.range(-16, -7)).tickFormat("").tickSize(-6), "translate(1031,0)", 21, "normal", "#222");
axis(gD, d3.axisBottom(xD).tickValues(d3.range(10, 37, 2)).tickFormat("").tickSize(-6), "translate(0,700)", 21, "normal", "#222");
axis(gD, d3.axisBottom(xD).tickValues(dXLabels).tickFormat(d3.format("d")).tickSize(0).tickPadding(10), "translate(0,700)", 21, "normal", "#222");
axis(gD, d3.axisTop(xD).tickValues(d3.range(10, 37, 2)).tickFormat("").tickSize(-6), "translate(0,395)", 21, "normal", "#222");
gD.selectAll(".tick line").attr("stroke-width", 1.6);
frame(gD, xD, yD, "#222", 2.2);

gD.append("text").attr("transform", "translate(586,562) rotate(-90)")
    .attr("text-anchor", "middle").attr("font-size", 24).attr("fill", "#222")
    .attr("textLength", 322).attr("lengthAdjust", "spacingAndGlyphs")
    .text("Distance along rift axis (km)");
gD.append("text").attr("x", 742).attr("y", 638).attr("font-size", 22).attr("fill", "#222")
    .attr("textLength", 240).attr("lengthAdjust", "spacingAndGlyphs").text("Time (hours from start");
gD.append("text").attr("x", 742).attr("y", 667).attr("font-size", 22).attr("fill", "#222")
    .attr("textLength", 221).attr("lengthAdjust", "spacingAndGlyphs").text("17 June 2006, GMT)");
letter(gD, "D", xD(10.5), yD(-9.75));
</script>
</body>
</html>
